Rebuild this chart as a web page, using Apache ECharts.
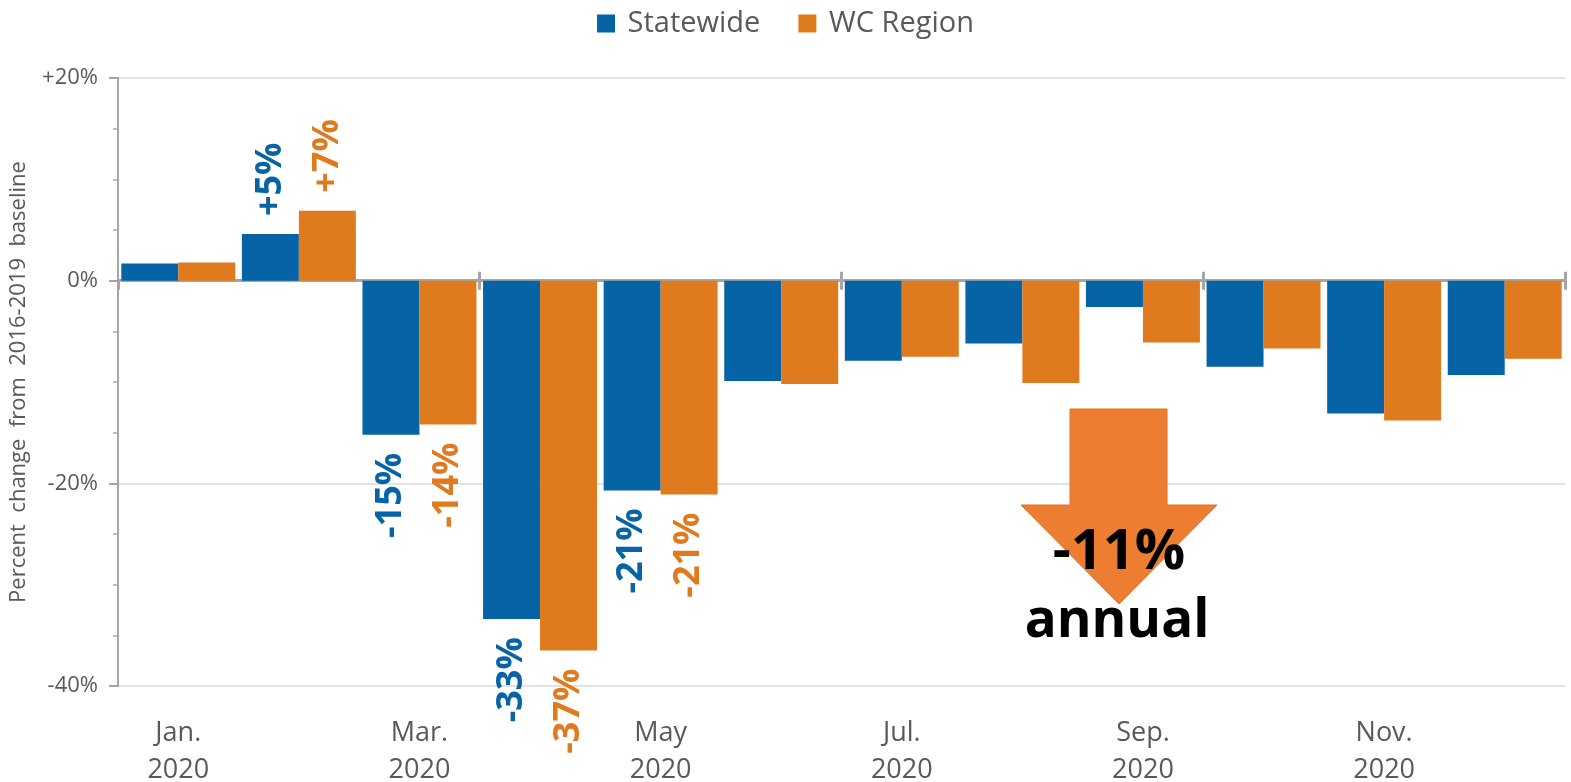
<!DOCTYPE html>
<html>
<head>
<meta charset="utf-8">
<script src="https://cdn.jsdelivr.net/npm/echarts@6/dist/echarts.min.js"></script>
<style>
  html, body { margin: 0; padding: 0; background: #fff; }
  #chart { width: 1571px; height: 782px; }
</style>
</head>
<body>
<div id="chart"></div>
<script>
// months and year shown on the x axis
var months = ['Jan.', 'Feb.', 'Mar.', 'Apr.', 'May', 'Jun.', 'Jul.', 'Aug.', 'Sep.', 'Oct.', 'Nov.', 'Dec.'];
var year = '2020';

// percent change from 2016-2019 baseline
var statewide = [1.7, 4.6, -15.2, -33.4, -20.7, -9.9, -7.9, -6.2, -2.6, -8.5, -13.1, -9.3];
var wcRegion = [1.8, 6.9, -14.2, -36.5, -21.1, -10.2, -7.5, -10.1, -6.1, -6.7, -13.8, -7.7];

// value labels written on a few bars
var statewideLabels = ['', '+5%', '-15%', '-33%', '-21%', '', '', '', '', '', '', ''];
var wcLabels = ['', '+7%', '-14%', '-37%', '-21%', '', '', '', '', '', '', ''];

var yTicks = { '20': '+20%', '0': '0%', '-20': '-20%', '-40': '-40%' };

var BLUE = '#0563A6';
var ORANGE = '#E07A1F';
var GREY = '#595959';
var FONT = '"Open Sans", sans-serif';

function barData(values, labels, color) {
    return values.map(function (v, i) {
        return {
            value: v,
            label: {
                show: labels[i] !== '',
                formatter: labels[i],
                position: v >= 0 ? 'top' : 'bottom',
                rotate: 90,
                align: v >= 0 ? 'left' : 'right',
                verticalAlign: 'middle',
                distance: 18,
                color: color,
                fontFamily: FONT,
                fontWeight: 'bold',
                fontSize: 36
            }
        };
    });
}

var chart = echarts.init(document.getElementById('chart'));

var tickStyle = { color: '#A6A6A6', width: 3 };

var option = {
    animation: false,
    textStyle: { fontFamily: FONT },
    legend: {
        top: 4,
        left: 'center',
        itemWidth: 18,
        itemHeight: 18,
        itemGap: 38,
        icon: 'rect',
        formatter: ' {name}',
        textStyle: { color: GREY, fontSize: 29, fontFamily: FONT },
        data: ['Statewide', 'WC Region']
    },
    grid: { left: 118, right: 6, top: 78, bottom: 96, outerBoundsMode: 'none' },
    xAxis: [
        {
            // zero line with quarter ticks pointing down
            type: 'category',
            data: months,
            axisLine: { onZero: true, lineStyle: tickStyle },
            axisTick: {
                show: true,
                length: 9,
                interval: function (i) { return i % 3 === 0; },
                lineStyle: tickStyle
            },
            axisLabel: { show: false }
        },
        {
            // month labels at the bottom
            type: 'category',
            data: months,
            position: 'bottom',
            axisLine: { show: false, onZero: false },
            axisTick: { show: false },
            axisLabel: {
                interval: 1,
                margin: 29,
                color: GREY,
                fontSize: 27,
                lineHeight: 37,
                fontFamily: FONT,
                formatter: function (m) { return m + '\n' + year; }
            }
        },
        {
            // quarter ticks pointing up from the zero line
            type: 'category',
            data: months,
            position: 'top',
            axisLine: { show: false, onZero: true, onZeroAxisIndex: 1 },
            axisTick: {
                show: true,
                length: 9,
                interval: function (i) { return i % 3 === 0 && i > 0; },
                lineStyle: tickStyle
            },
            axisLabel: { show: false }
        }
    ],
    yAxis: [
        {
            type: 'value',
            min: -40,
            max: 20,
            interval: 20,
            name: 'Percent  change  from  2016-2019  baseline',
            nameLocation: 'middle',
            nameGap: 88,
            nameTextStyle: { color: GREY, fontSize: 22, fontFamily: FONT },
            axisLine: { show: true, lineStyle: { color: '#A6A6A6', width: 2 } },
            axisTick: { show: true, length: 9, lineStyle: { color: '#A6A6A6', width: 2 } },
            minorTick: { show: true, splitNumber: 4, length: 5, lineStyle: { color: '#A6A6A6', width: 1.5 } },
            splitLine: { show: true, lineStyle: { color: '#D9D9D9', width: 1.5 } },
            axisLabel: {
                margin: 20,
                color: GREY,
                fontSize: 22,
                fontFamily: FONT,
                formatter: function (v) { return yTicks[String(v)]; }
            }
        },
        {
            type: 'value',
            min: -40,
            max: 20,
            interval: 20,
            show: false,
            splitLine: { show: false }
        }
    ],
    series: [
        {
            name: 'Statewide',
            type: 'bar',
            xAxisIndex: 0,
            yAxisIndex: 0,
            barGap: '0%',
            barCategoryGap: '5.5%',
            itemStyle: { color: BLUE },
            data: barData(statewide, statewideLabels, BLUE)
        },
        {
            name: 'WC Region',
            type: 'bar',
            xAxisIndex: 0,
            yAxisIndex: 0,
            barGap: '0%',
            barCategoryGap: '5.5%',
            itemStyle: { color: ORANGE },
            data: barData(wcRegion, wcLabels, ORANGE)
        }
    ],
    graphic: [
        {
            type: 'polygon',
            z: 100,
            shape: {
                points: [[1070, 409], [1167, 409], [1167, 505], [1217, 505],
                         [1119, 604], [1021, 505], [1070, 505]]
            },
            style: { fill: '#ED7D31', stroke: '#E07025', lineWidth: 1 }
        },
        {
            type: 'text',
            z: 101,
            x: 1119,
            y: 553,
            style: {
                text: '-11%',
                fill: '#000',
                font: 'bold 56px "Open Sans", sans-serif',
                textAlign: 'center',
                textVerticalAlign: 'middle'
            }
        },
        {
            type: 'text',
            z: 101,
            x: 1117,
            y: 622,
            style: {
                text: 'annual',
                fill: '#000',
                font: 'bold 53px "Open Sans", sans-serif',
                textAlign: 'center',
                textVerticalAlign: 'middle'
            }
        }
    ]
};

chart.setOption(option);
</script>
</body>
</html>
